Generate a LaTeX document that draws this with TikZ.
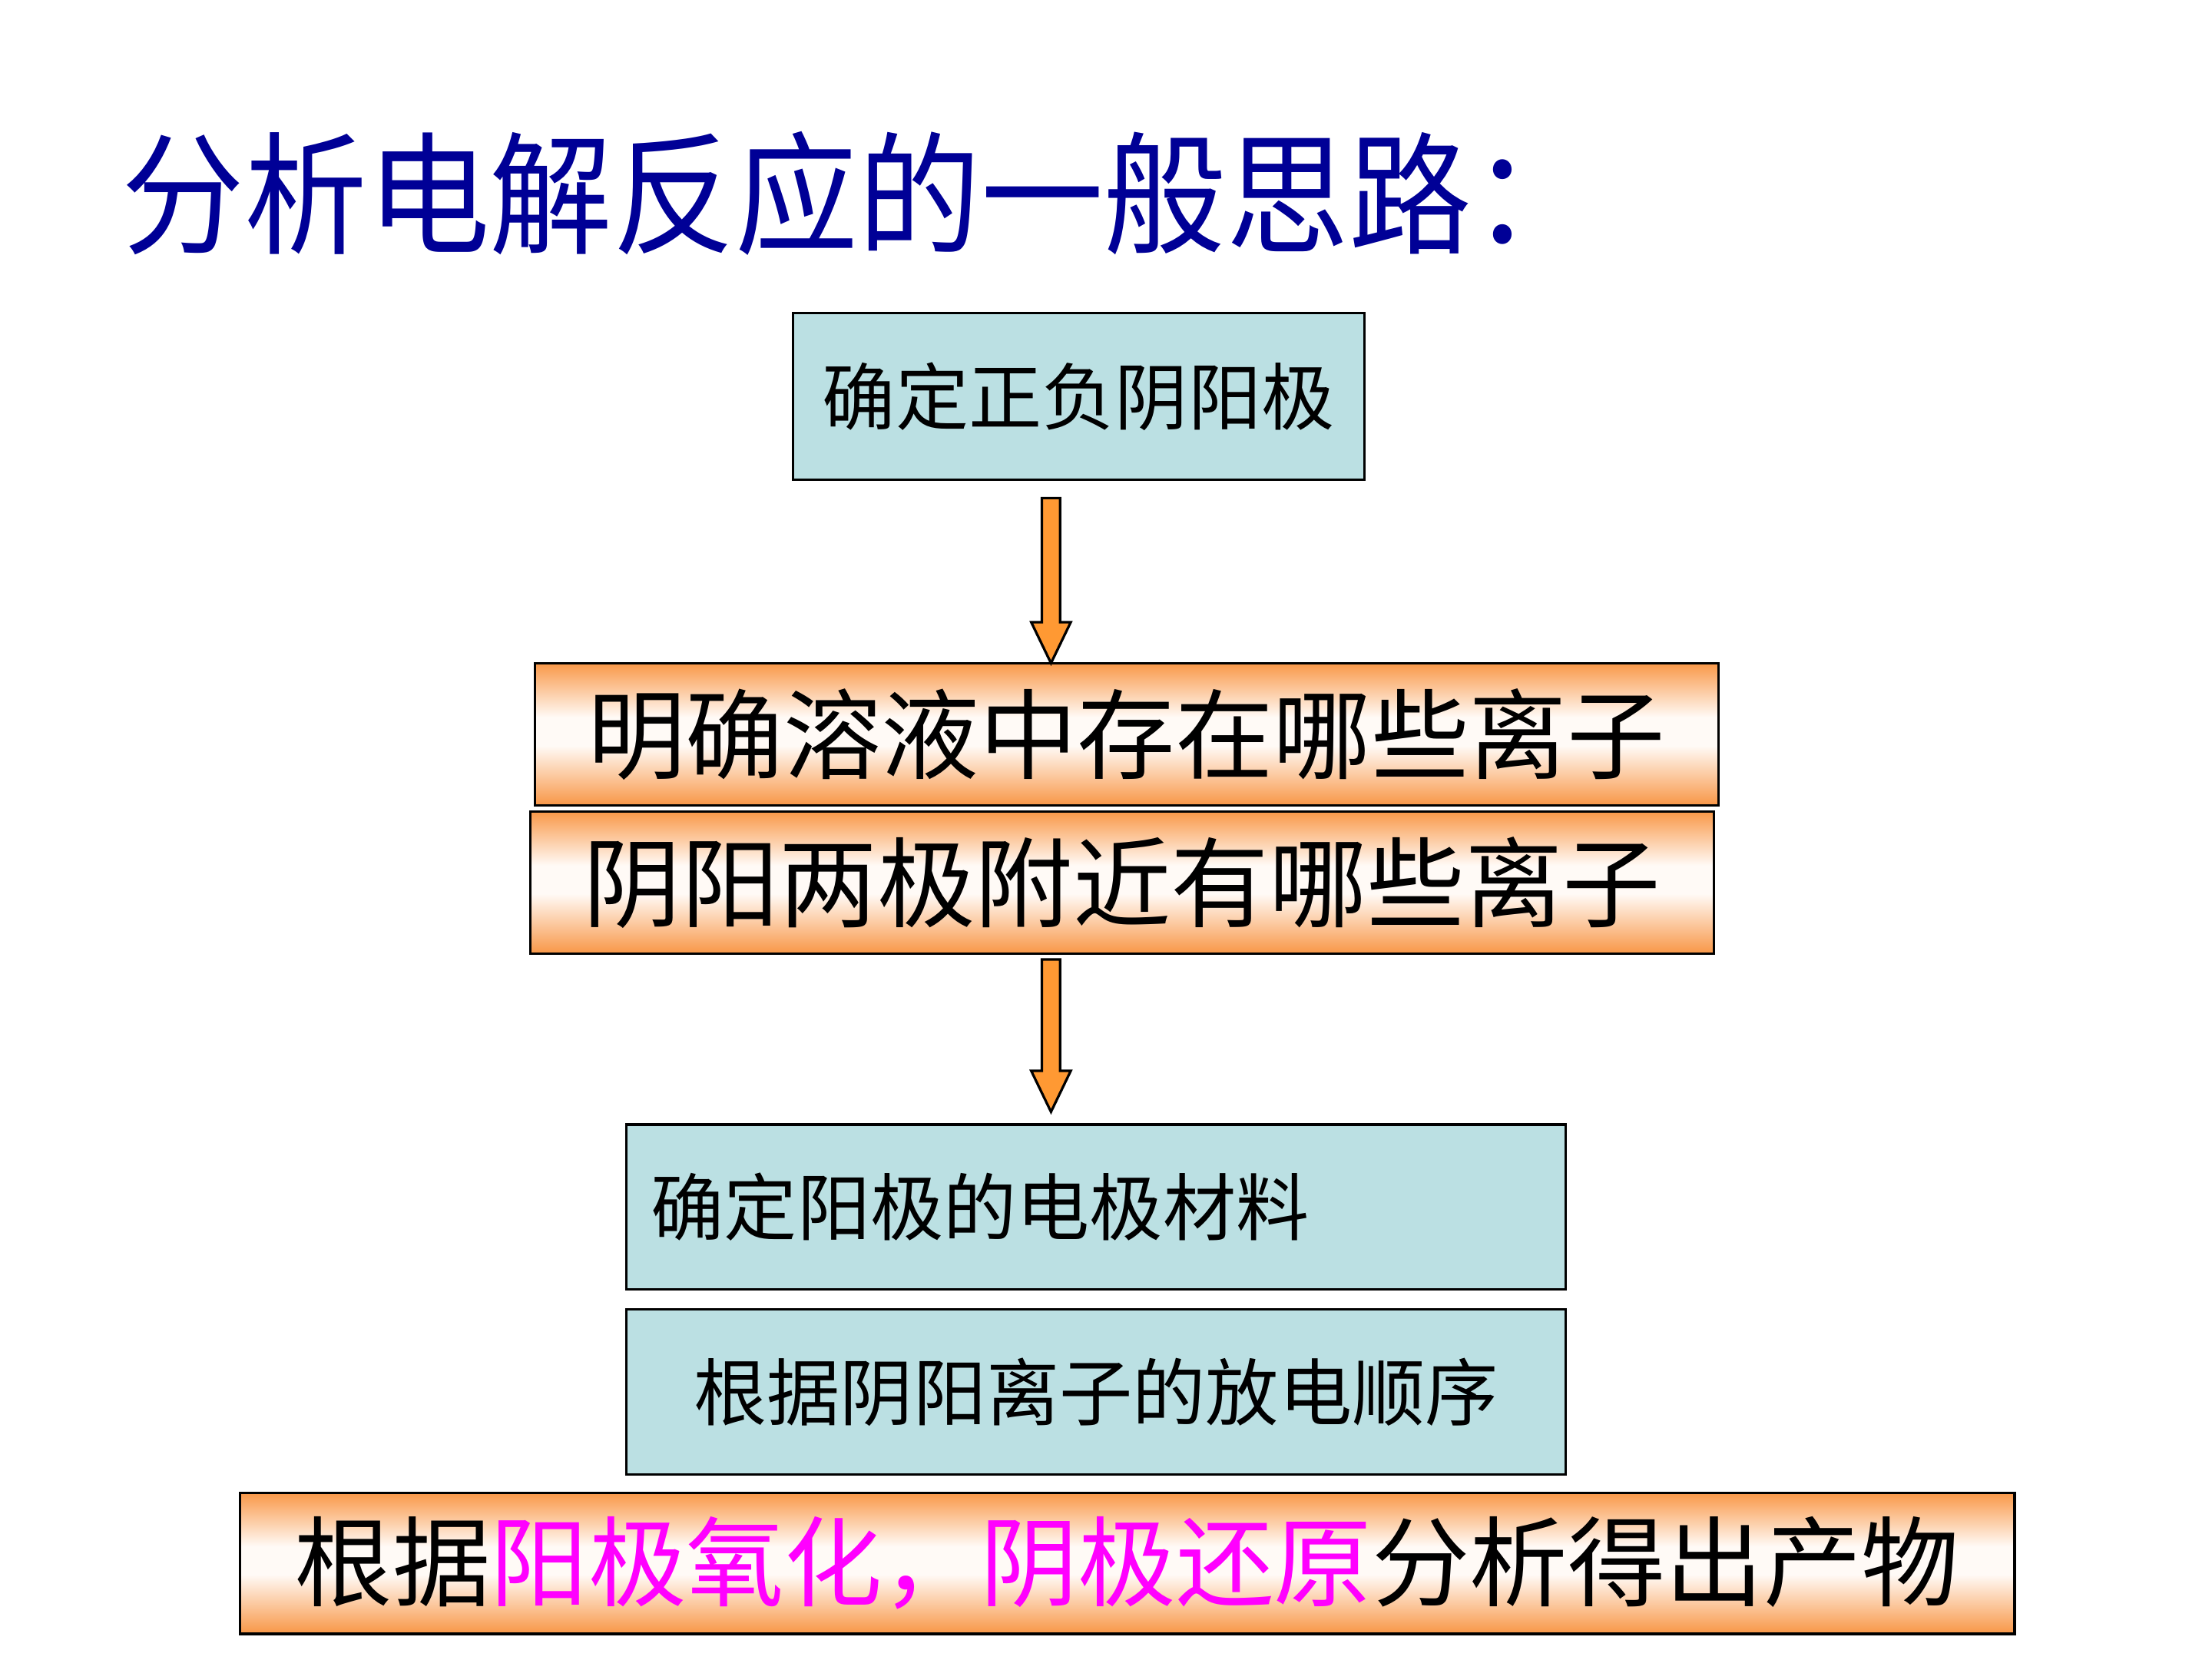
\documentclass[tikz,border=0pt]{standalone}
\usepackage{fontspec}
\setmainfont{Noto Sans CJK SC}
\usetikzlibrary{calc}
\definecolor{titleblue}{RGB}{0,0,150}
\definecolor{lightblue}{RGB}{187,224,227}
\definecolor{arroworange}{RGB}{255,153,51}
\definecolor{orT}{RGB}{249,152,72}
\definecolor{orB}{RGB}{248,150,70}
\definecolor{orW}{RGB}{255,250,246}
\definecolor{mag}{RGB}{255,0,255}
\pgfdeclareverticalshading{orgband}{100bp}{color(0bp)=(orB); color(25bp)=(orB); color(46bp)=(orW); color(56bp)=(orW); color(75bp)=(orT); color(100bp)=(orT)}
\tikzset{
  bluebox/.style={draw=black, line width=1pt, fill=lightblue, inner sep=0pt},
  orangebox/.style={draw=black, line width=1pt, shading=orgband, inner sep=0pt},
  smalltxt/.style={font=\fontsize{29.5pt}{32pt}\selectfont, text=black, inner sep=0pt},
  bigtxt/.style={font=\fontsize{39.5pt}{42pt}\selectfont, text=black, inner sep=0pt},
  flowarrow/.style={draw=black, line width=1pt, fill=arroworange, line join=miter}
}
\begin{document}
\begin{tikzpicture}
\useasboundingbox (0,0) rectangle (31.36,-23.52);
% title
\node[anchor=west, inner sep=0pt, text=titleblue, font=\fontsize{49.5pt}{52pt}\selectfont] (title) at (1.72,-2.74) {\scalebox{1}[1.08]{分析电解反应的一般思路：}};
% boxes
\node[bluebox, minimum width=8.1cm, minimum height=2.36cm] (b1) at (15.29,-5.62) {};
\node[smalltxt] (t1) at (b1.center) {确定正负阴阳极};
\node[orangebox, minimum width=16.78cm, minimum height=2.02cm] (b2) at (15.97,-10.41) {};
\node[bigtxt] (t2) at (b2.center) {明确溶液中存在哪些离子};
\node[orangebox, minimum width=16.78cm, minimum height=2.02cm] (b3) at (15.91,-12.51) {};
\node[bigtxt] (t3) at (b3.center) {阴阳两极附近有哪些离子};
\node[bluebox, minimum width=13.32cm, minimum height=2.34cm] (b4) at (15.54,-17.11) {};
\node[smalltxt, anchor=west] (t4) at ($(b4.west)+(0.36,0)$) {确定阳极的电极材料};
\node[bluebox, minimum width=13.32cm, minimum height=2.34cm] (b5) at (15.54,-19.73) {};
\node[smalltxt] (t5) at (b5.center) {根据阴阳离子的放电顺序};
\node[orangebox, minimum width=25.16cm, minimum height=2.0cm] (b6) at (15.98,-22.16) {};
\node[bigtxt] (t6) at (b6.center) {根据\textcolor{mag}{阳极氧化，阴极还原}分析得出产物};
% arrows
\coordinate (a1top) at (14.9,-7.06);
\coordinate (a1tip) at (14.9,-9.40);
\coordinate (a2top) at (14.9,-13.6);
\coordinate (a2tip) at (14.9,-15.76);
\foreach \s/\e in {a1top/a1tip, a2top/a2tip}{
  \draw[flowarrow] ($(\s)+(-0.13,0)$) -- ($(\s)+(0.13,0)$) -- ($(\e)+(0.13,0.58)$) -- ($(\e)+(0.28,0.58)$) -- (\e) -- ($(\e)+(-0.28,0.58)$) -- ($(\e)+(-0.13,0.58)$) -- cycle;
}
\end{tikzpicture}
\end{document}
